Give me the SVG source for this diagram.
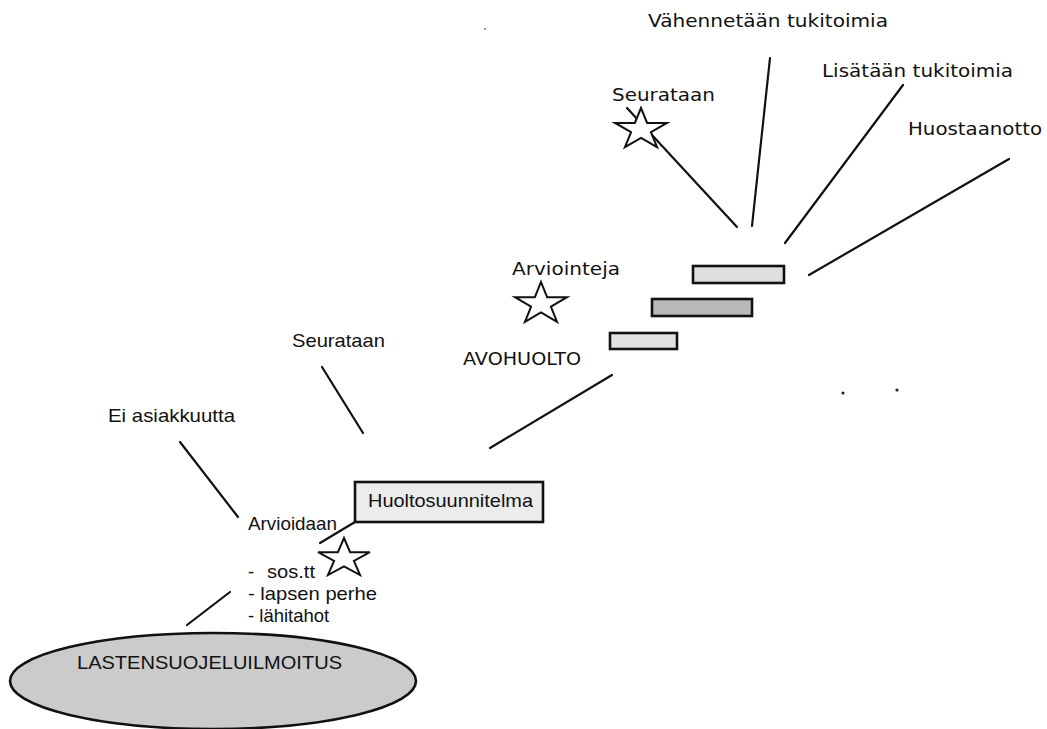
<svg xmlns="http://www.w3.org/2000/svg" width="1047" height="729" viewBox="0 0 1047 729">
<style>
  .a { font-family: "Liberation Sans", Arial, sans-serif; font-size: 18.5px; fill: #111; }
  .v { font-family: "DejaVu Sans", Verdana, sans-serif; font-size: 18.5px; fill: #111; }
  .ln { stroke: #111; stroke-width: 2.2; fill: none; stroke-linecap: round; }
  .box { stroke: #111; stroke-width: 2.6; }
  .star { fill: #fff; stroke: #111; stroke-width: 2; stroke-linejoin: miter; }
</style>
<defs>
  <polygon id="starShape" points="0,-1 0.2245,-0.309 0.951,-0.309 0.3633,0.118 0.5878,0.809 0,0.382 -0.5878,0.809 -0.3633,0.118 -0.951,-0.309 -0.2245,-0.309" vector-effect="non-scaling-stroke"/>
</defs>
<rect width="1047" height="729" fill="#fff"/>

<g id="connectors">
  <line class="ln" x1="187" y1="625" x2="230" y2="592"/>
  <line class="ln" x1="180" y1="442" x2="238" y2="517"/>
  <line class="ln" x1="322" y1="367" x2="363" y2="433"/>
  <line class="ln" x1="320" y1="543" x2="355" y2="522"/>
  <line class="ln" x1="490" y1="448" x2="612" y2="375"/>
  <line class="ln" x1="737" y1="227" x2="627" y2="108"/>
  <line class="ln" x1="752" y1="226" x2="770" y2="58"/>
  <line class="ln" x1="785" y1="243" x2="903" y2="85"/>
  <line class="ln" x1="809" y1="275" x2="1009" y2="159"/>
</g>

<g id="lastensuojeluilmoitus">
  <ellipse cx="213" cy="681" rx="203" ry="48" fill="#cbcbcb" class="box"/>
  <text class="a" x="77" y="669" font-size="20.5" textLength="265" lengthAdjust="spacingAndGlyphs">LASTENSUOJELUILMOITUS</text>
</g>

<g id="arvioidaan">
  <text class="a" x="248" y="530" textLength="89" lengthAdjust="spacingAndGlyphs">Arvioidaan</text>
  <text class="a" x="248" y="578">-</text>
  <text class="a" x="267" y="578" textLength="48" lengthAdjust="spacingAndGlyphs">sos.tt</text>
  <text class="a" x="248" y="600" textLength="129" lengthAdjust="spacingAndGlyphs">- lapsen perhe</text>
  <text class="a" x="248" y="622">- lähitahot</text>
</g>

<g id="star-arvioidaan">
  <use href="#starShape" class="star" transform="translate(344,558.5) scale(27.3,20.5)"/>
</g>

<g id="ei-asiakkuutta">
  <text class="a" x="108" y="422" textLength="127" lengthAdjust="spacingAndGlyphs">Ei asiakkuutta</text>
</g>

<g id="seurataan-1">
  <text class="a" x="292" y="347" textLength="93" lengthAdjust="spacingAndGlyphs">Seurataan</text>
</g>

<g id="huoltosuunnitelma">
  <rect x="355" y="482" width="188" height="40" fill="#ececec" class="box"/>
  <text class="a" x="368" y="507" textLength="165" lengthAdjust="spacingAndGlyphs">Huoltosuunnitelma</text>
</g>

<g id="avohuolto">
  <text class="v" x="463" y="365" textLength="118" lengthAdjust="spacingAndGlyphs">AVOHUOLTO</text>
</g>

<g id="arviointeja">
  <text class="v" x="512" y="275" textLength="108" lengthAdjust="spacingAndGlyphs">Arviointeja</text>
  <use href="#starShape" class="star" transform="translate(541,304) scale(27.3,22)"/>
</g>

<g id="step-1">
  <rect x="610" y="333" width="67" height="16" fill="#e2e2e2" class="box"/>
</g>
<g id="step-2">
  <rect x="652" y="299" width="100" height="17" fill="#b9b9b9" class="box"/>
</g>
<g id="step-3">
  <rect x="693" y="266" width="91" height="17" fill="#dedede" class="box"/>
</g>

<g id="seurataan-2">
  <text class="v" x="612" y="101" textLength="103" lengthAdjust="spacingAndGlyphs">Seurataan</text>
  <use href="#starShape" class="star" transform="translate(641,129.6) scale(27.3,21.6)"/>
</g>

<g id="vahennetaan">
  <text class="v" x="648" y="27" textLength="240" lengthAdjust="spacingAndGlyphs">Vähennetään tukitoimia</text>
</g>

<g id="lisataan">
  <text class="v" x="822" y="77" textLength="191" lengthAdjust="spacingAndGlyphs">Lisätään tukitoimia</text>
</g>

<g id="huostaanotto">
  <text class="v" x="908" y="135" textLength="134" lengthAdjust="spacingAndGlyphs">Huostaanotto</text>
</g>

<g id="dots">
  <circle cx="843" cy="393" r="1.6" fill="#222"/>
  <circle cx="897" cy="390" r="1.6" fill="#222"/>
  <circle cx="485" cy="29" r="1" fill="#777"/>
</g>
</svg>
